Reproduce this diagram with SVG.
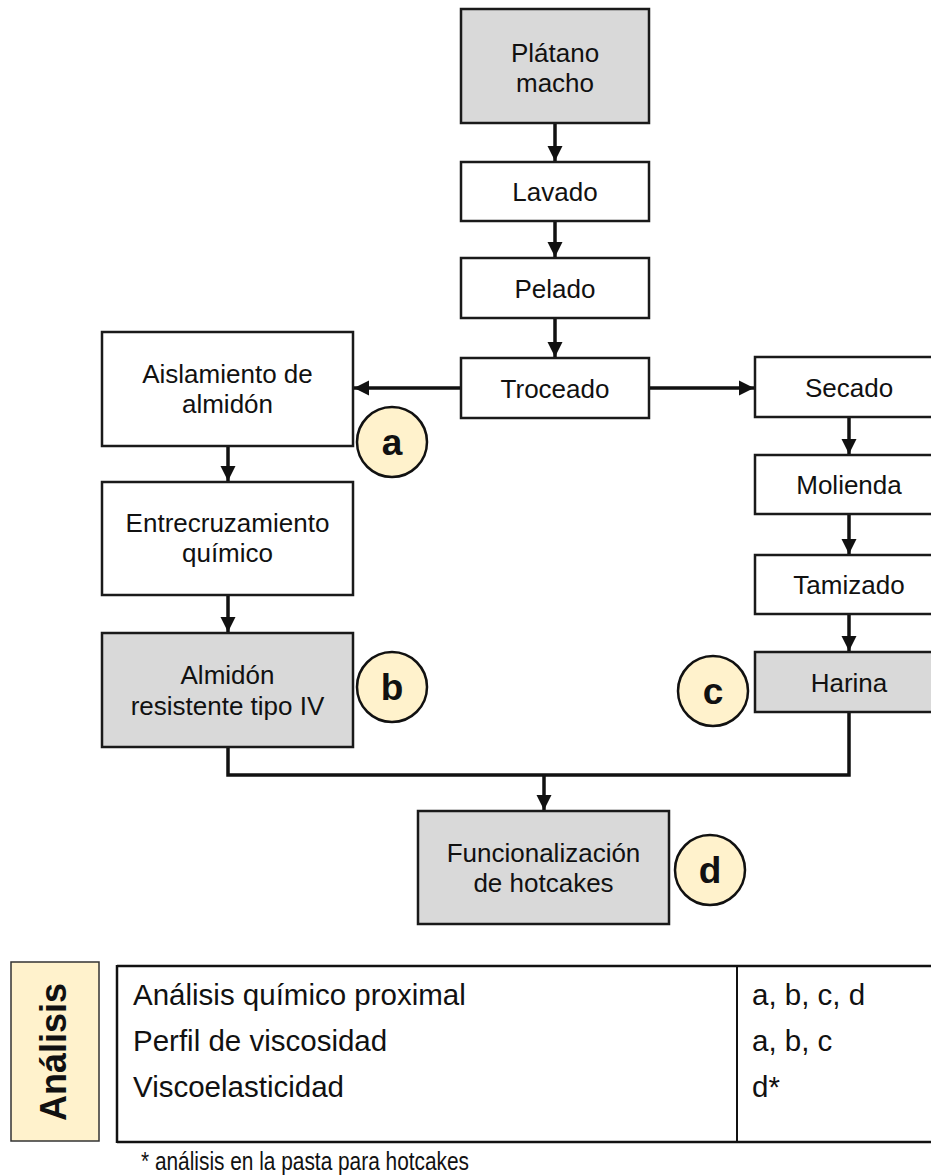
<svg xmlns="http://www.w3.org/2000/svg" width="931" height="1176" viewBox="0 0 931 1176">
<defs>
<style>
.box{fill:#ffffff;stroke:#1a1a1a;stroke-width:2.5}
.gray{fill:#d9d9d9;stroke:#1a1a1a;stroke-width:2.5}
.t{font-family:"Liberation Sans",Arial,sans-serif;font-size:26px;fill:#111;text-anchor:middle}
.circ{fill:#fff2cc;stroke:#111;stroke-width:2.5}
.ct{font-family:"Liberation Sans",Arial,sans-serif;font-size:37px;font-weight:bold;fill:#111;text-anchor:middle}
.edge{fill:none;stroke:#111;stroke-width:3.5}
.tab{font-family:"Liberation Sans",Arial,sans-serif;font-size:29.5px;fill:#111}
</style>
<marker id="arr" viewBox="0 0 10 10" refX="10" refY="5" markerWidth="4.4" markerHeight="4.6" orient="auto" markerUnits="strokeWidth">
<path d="M0,0 L10,5 L0,10 z" fill="#111"/>
</marker>
</defs>
<rect width="931" height="1176" fill="#ffffff"/>

<g id="connectors">
<line class="edge" x1="555" y1="123" x2="555" y2="161" marker-end="url(#arr)"/>
<line class="edge" x1="555" y1="221" x2="555" y2="257" marker-end="url(#arr)"/>
<line class="edge" x1="555" y1="318" x2="555" y2="357" marker-end="url(#arr)"/>
<line class="edge" x1="461" y1="388" x2="354" y2="388" marker-end="url(#arr)"/>
<line class="edge" x1="649" y1="388" x2="754" y2="388" marker-end="url(#arr)"/>
<line class="edge" x1="228" y1="446" x2="228" y2="481" marker-end="url(#arr)"/>
<line class="edge" x1="228" y1="595" x2="228" y2="632" marker-end="url(#arr)"/>
<line class="edge" x1="849" y1="417" x2="849" y2="454" marker-end="url(#arr)"/>
<line class="edge" x1="849" y1="514" x2="849" y2="554" marker-end="url(#arr)"/>
<line class="edge" x1="849" y1="614" x2="849" y2="651" marker-end="url(#arr)"/>
<polyline class="edge" points="228,747 228,775 849,775 849,712"/>
<line class="edge" x1="544" y1="775" x2="544" y2="810" marker-end="url(#arr)"/>
</g>

<g id="platano">
<rect class="gray" x="461" y="9" width="188" height="114"/>
<text class="t" x="555" y="62">Plátano</text>
<text class="t" x="555" y="92">macho</text>
</g>
<g id="lavado">
<rect class="box" x="461" y="162" width="188" height="59"/>
<text class="t" x="555" y="201">Lavado</text>
</g>
<g id="pelado">
<rect class="box" x="461" y="258" width="188" height="60"/>
<text class="t" x="555" y="298">Pelado</text>
</g>
<g id="troceado">
<rect class="box" x="461" y="358" width="188" height="60"/>
<text class="t" x="555" y="398">Troceado</text>
</g>
<g id="aislamiento">
<rect class="box" x="102" y="332" width="251" height="114"/>
<text class="t" x="227.5" y="383">Aislamiento de</text>
<text class="t" x="227.5" y="413">almidón</text>
</g>
<g id="entrecruzamiento">
<rect class="box" x="102" y="482" width="251" height="113"/>
<text class="t" x="227.5" y="532">Entrecruzamiento</text>
<text class="t" x="227.5" y="562">químico</text>
</g>
<g id="almidon">
<rect class="gray" x="102" y="633" width="251" height="114"/>
<text class="t" x="227.5" y="684">Almidón</text>
<text class="t" x="227.5" y="715">resistente tipo IV</text>
</g>
<g id="secado">
<rect class="box" x="755" y="357" width="188" height="60"/>
<text class="t" x="849" y="397">Secado</text>
</g>
<g id="molienda">
<rect class="box" x="755" y="455" width="188" height="59"/>
<text class="t" x="849" y="494">Molienda</text>
</g>
<g id="tamizado">
<rect class="box" x="755" y="555" width="188" height="59"/>
<text class="t" x="849" y="594">Tamizado</text>
</g>
<g id="harina">
<rect class="gray" x="755" y="652" width="188" height="60"/>
<text class="t" x="849" y="692">Harina</text>
</g>
<g id="funcionalizacion">
<rect class="gray" x="418" y="811" width="251" height="113"/>
<text class="t" x="543.5" y="862">Funcionalización</text>
<text class="t" x="543.5" y="892">de hotcakes</text>
</g>

<g id="label-a"><circle class="circ" cx="392" cy="442" r="35"/><text class="ct" x="392" y="455">a</text></g>
<g id="label-b"><circle class="circ" cx="392" cy="687" r="35"/><text class="ct" x="392" y="700">b</text></g>
<g id="label-c"><circle class="circ" cx="713" cy="691" r="35"/><text class="ct" x="713" y="704">c</text></g>
<g id="label-d"><circle class="circ" cx="710" cy="870" r="35"/><text class="ct" x="710" y="883">d</text></g>

<g id="analisis-label">
<rect x="11" y="962" width="88" height="179" fill="#fff2cc" stroke="#333" stroke-width="1.5"/>
<text font-family="'Liberation Sans',Arial,sans-serif" font-size="36" font-weight="bold" fill="#111" text-anchor="middle" transform="translate(66,1052) rotate(-90)">Análisis</text>
</g>

<g id="analisis-table">
<line x1="117" y1="966" x2="931" y2="966" stroke="#111" stroke-width="2.5"/>
<line x1="117" y1="1142" x2="931" y2="1142" stroke="#111" stroke-width="2.5"/>
<line x1="117" y1="965" x2="117" y2="1143" stroke="#111" stroke-width="2.5"/>
<line x1="737" y1="966" x2="737" y2="1142" stroke="#111" stroke-width="2"/>
<text class="tab" x="133" y="1005">Análisis químico proximal</text>
<text class="tab" x="133" y="1051">Perfil de viscosidad</text>
<text class="tab" x="133" y="1097">Viscoelasticidad</text>
<text class="tab" x="752" y="1005">a, b, c, d</text>
<text class="tab" x="752" y="1051">a, b, c</text>
<text class="tab" x="752" y="1097">d*</text>
<text class="tab" x="141" y="1170" style="font-size:25px" textLength="328" lengthAdjust="spacingAndGlyphs">* análisis en la pasta para hotcakes</text>
</g>
</svg>
